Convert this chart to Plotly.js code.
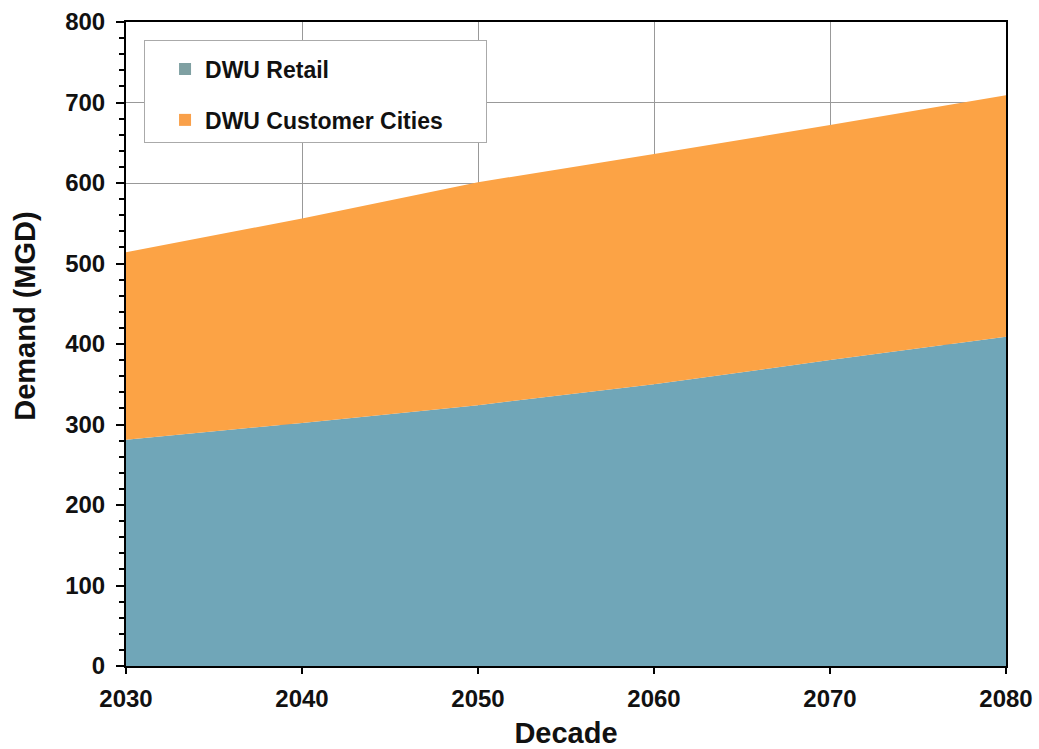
<!DOCTYPE html>
<html><head><meta charset="utf-8">
<script src="https://cdn.plot.ly/plotly-3.0.1.min.js"></script>
<style>html,body{margin:0;padding:0;background:#fff}#c{width:1039px;height:749px}</style>
</head><body><div id="c"></div>
<script>
const decades = [2030, 2040, 2050, 2060, 2070, 2080];
const retail = [281, 302, 324, 350, 380, 409];
const customerCities = [233, 254, 277, 286, 292, 300];
const seriesNames = ["DWU Retail", "DWU Customer Cities"];
const colors = ["#70a6b8", "#fca345"];
const legendColors = ["#7fa0a2", "#f9a04a"];

const FF = "Liberation Sans, Arial, sans-serif";
const traces = [
  {x: decades, y: retail, name: seriesNames[0], type: "scatter", mode: "lines", stackgroup: "one",
   line: {width: 0, color: colors[0]}, fillcolor: colors[0], showlegend: false},
  {x: decades, y: customerCities, name: seriesNames[1], type: "scatter", mode: "lines", stackgroup: "one",
   line: {width: 0, color: colors[1]}, fillcolor: colors[1], showlegend: false},
  // legend-only entries (square swatches)
  {x: [decades[0]], y: [null], name: seriesNames[0], type: "bar", marker: {color: legendColors[0]}, legendgroup: "a", showlegend: true, hoverinfo: "skip"},
  {x: [decades[0]], y: [null], name: seriesNames[1], type: "bar", marker: {color: legendColors[1]}, legendgroup: "b", showlegend: true, hoverinfo: "skip"}
];
const legendSpacer = "\u00a0".repeat(242);
const layout = {
  width: 1039, height: 749,
  margin: {l: 126, r: 33, t: 22, b: 83},
  paper_bgcolor: "#fff", plot_bgcolor: "#fff",
  font: {family: FF, color: "#111"},
  showlegend: true,
  legend: {x: 0.0205, y: 0.972, xanchor: "left", yanchor: "top", bgcolor: "#fff",
    bordercolor: "#aaa", borderwidth: 1, font: {family: FF, size: 23, color: "#111", weight: "bold"},
    traceorder: "grouped", tracegroupgap: 18, itemwidth: 30, indentation: 20,
    title: {text: legendSpacer, font: {family: FF, size: 5}}},
  xaxis: {range: [2030, 2080], tickvals: decades, ticktext: decades.map(String),
    showgrid: true, gridcolor: "#999", gridwidth: 1, zeroline: false,
    showline: true, linecolor: "#000", linewidth: 2, mirror: true, layer: "above traces",
    ticks: "outside", ticklen: 6, tickcolor: "#000", tickwidth: 2, ticklabelstandoff: 4,
    tickfont: {family: FF, size: 24, color: "#111", weight: "bold"},
    title: {text: "Decade", font: {family: FF, size: 29, color: "#111", weight: "bold"}, standoff: 12}},
  yaxis: {range: [0, 800], dtick: 100, showgrid: true, gridcolor: "#999", gridwidth: 1, zeroline: false,
    showline: true, linecolor: "#000", linewidth: 2, mirror: true, layer: "above traces",
    ticks: "outside", ticklen: 8, tickcolor: "#000", tickwidth: 2, ticklabelstandoff: 6,
    minor: {dtick: 20, ticks: "outside", ticklen: 5, tickcolor: "#000", tickwidth: 2, showgrid: false},
    tickfont: {family: FF, size: 24, color: "#111", weight: "bold"}},
  annotations: [{text: "Demand (MGD)", xref: "paper", yref: "paper", x: -0.115, y: 0.5435,
    xanchor: "center", yanchor: "middle", textangle: -90, showarrow: false,
    font: {family: FF, size: 29, color: "#111", weight: "bold"}}]
};
Plotly.newPlot("c", traces, layout, {displayModeBar: false, staticPlot: true});
</script></body></html>
